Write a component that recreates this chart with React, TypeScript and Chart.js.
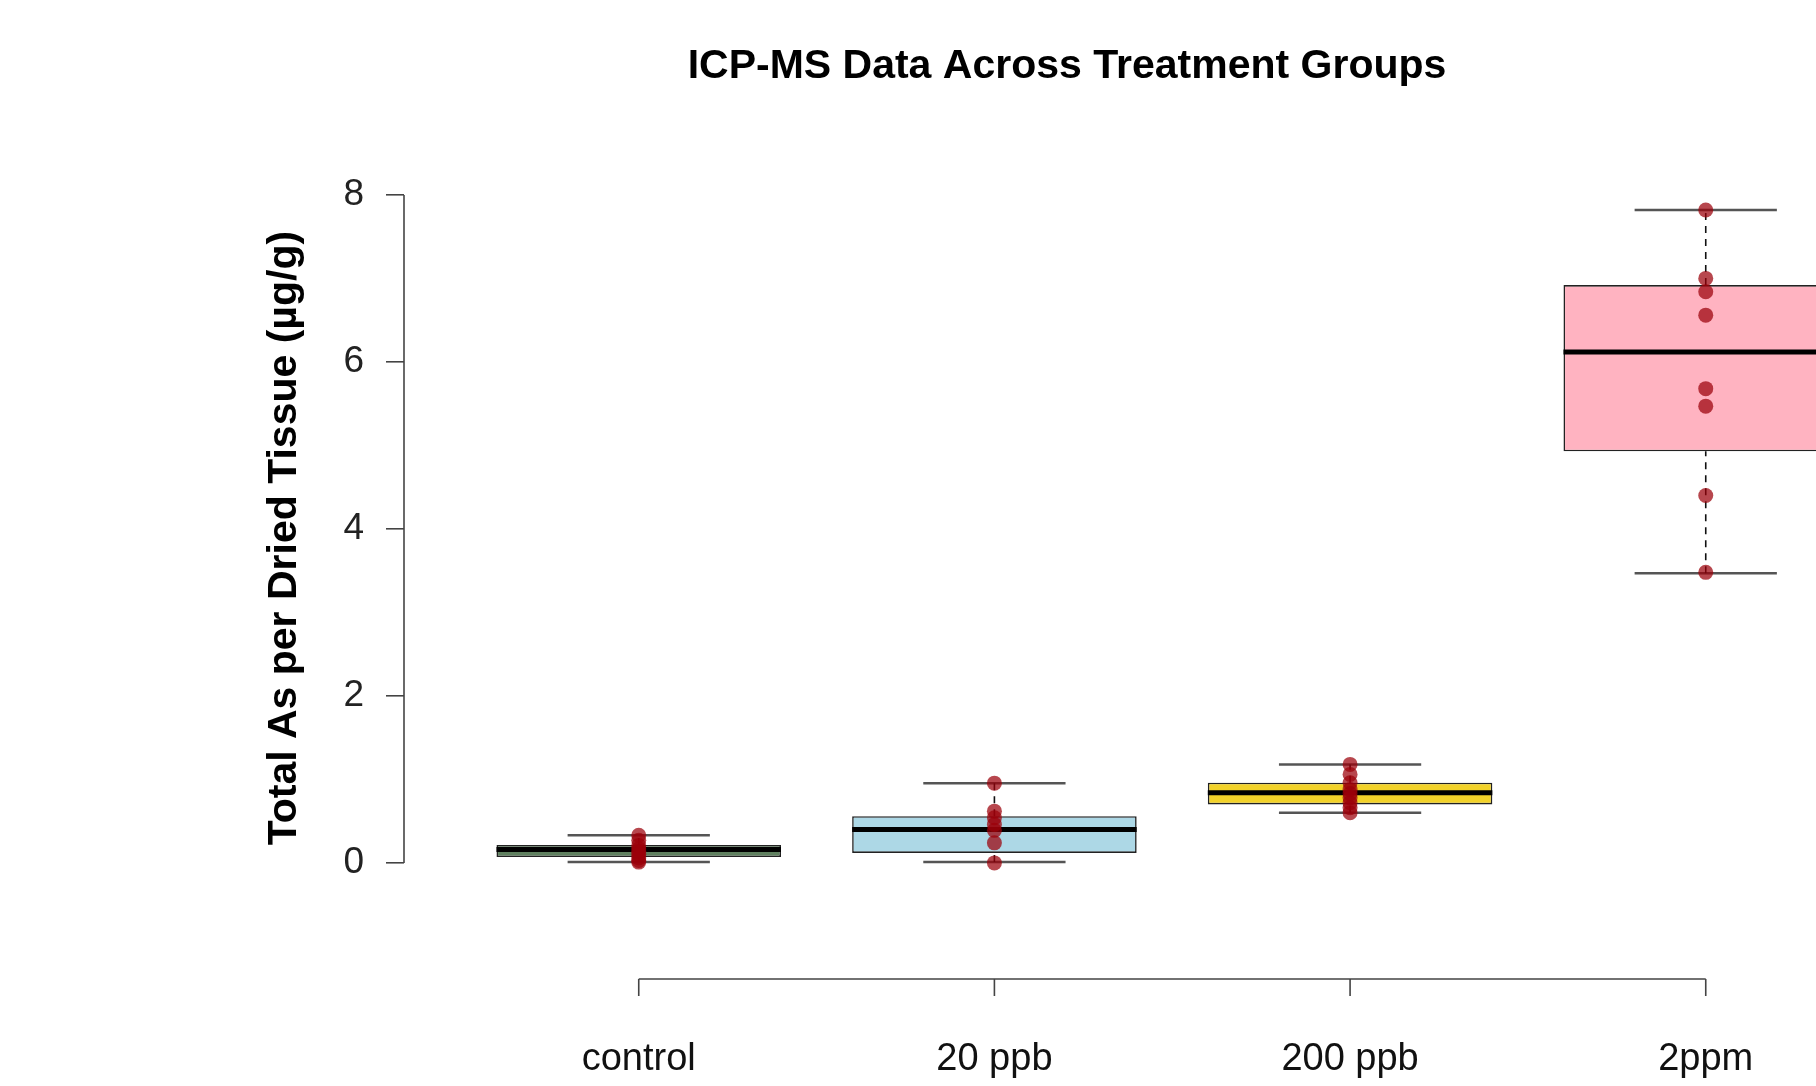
import React, { useEffect, useRef } from "react";
import { Chart, registerables } from "chart.js";

Chart.register(...registerables);

// ---- data ----
const categories = ["control", "20 ppb", "200 ppb", "2ppm"];
const whiskerLow = [0.01, 0.01, 0.6, 3.47];
const quartile1 = [0.07, 0.12, 0.7, 4.93];
const medians = [0.16, 0.4, 0.84, 6.12];
const quartile3 = [0.215, 0.56, 0.96, 6.92];
const whiskerHigh = [0.33, 0.955, 1.18, 7.82];
const controlPoints = [0.01, 0.03, 0.06, 0.1, 0.14, 0.17, 0.21, 0.27, 0.33];
const ppb20Points = [0.0, 0.24, 0.39, 0.46, 0.54, 0.62, 0.955];
const ppb200Points = [0.6, 0.66, 0.72, 0.78, 0.83, 0.88, 0.96, 1.06, 1.18];
const ppm2Points = [3.48, 4.4, 5.47, 5.68, 6.56, 6.84, 7.0, 7.82];
const groupPoints = [controlPoints, ppb20Points, ppb200Points, ppm2Points];
const yTickValues = [0, 2, 4, 6, 8];

// ---- styles ----
const boxColors = ["#5f805f", "#add8e6", "#f2d22a", "#ffb3c1"];
const FONT = "'Liberation Sans', Arial, Helvetica, sans-serif";
const BOX_HALF = 0.4;
const CAP_HALF = 0.2;
const X_AXIS_OFFSET = 71;
const X_TICK_LEN = 17;

const axisPlugin = {
  id: "rAxes",
  afterDraw(chart: any) {
    const { ctx, chartArea, scales } = chart;
    const x = scales.x;
    const y = scales.y;
    ctx.save();
    ctx.strokeStyle = "#444";
    ctx.lineWidth = 1.6;
    ctx.beginPath();
    ctx.moveTo(chartArea.left, y.getPixelForValue(yTickValues[0]));
    ctx.lineTo(chartArea.left, y.getPixelForValue(yTickValues[yTickValues.length - 1]));
    ctx.stroke();
    const ay = chartArea.bottom + X_AXIS_OFFSET;
    ctx.beginPath();
    ctx.moveTo(x.getPixelForValue(1), ay);
    ctx.lineTo(x.getPixelForValue(categories.length), ay);
    categories.forEach((_, i) => {
      const px = x.getPixelForValue(i + 1);
      ctx.moveTo(px, ay);
      ctx.lineTo(px, ay + X_TICK_LEN);
    });
    ctx.stroke();
    ctx.restore();
  },
};

export default function App() {
  const ref = useRef<HTMLCanvasElement | null>(null);

  useEffect(() => {
    if (!ref.current) return;
    Chart.defaults.font.family = FONT;

    const medianData: any[] = [];
    const whiskerData: any[] = [];
    const capData: any[] = [];
    categories.forEach((_, i) => {
      const c = i + 1;
      medianData.push({ x: c - BOX_HALF, y: medians[i] }, { x: c + BOX_HALF, y: medians[i] }, { x: c, y: null });
      whiskerData.push({ x: c, y: quartile3[i] }, { x: c, y: whiskerHigh[i] }, { x: c, y: null });
      whiskerData.push({ x: c, y: whiskerLow[i] }, { x: c, y: quartile1[i] }, { x: c, y: null });
      capData.push({ x: c - CAP_HALF, y: whiskerHigh[i] }, { x: c + CAP_HALF, y: whiskerHigh[i] }, { x: c, y: null });
      capData.push({ x: c - CAP_HALF, y: whiskerLow[i] }, { x: c + CAP_HALF, y: whiskerLow[i] }, { x: c, y: null });
    });
    const pointData: any[] = [];
    groupPoints.forEach((pts, i) => pts.forEach((v) => pointData.push({ x: i + 1, y: v })));

    const chart = new Chart(ref.current, {
      type: "bar",
      data: {
        datasets: [
          {
            type: "scatter",
            label: "samples",
            data: pointData,
            pointRadius: 7.5,
            pointBackgroundColor: "rgba(155,0,10,0.72)",
            pointBorderWidth: 0,
            order: 0,
          } as any,
          {
            type: "line",
            label: "median",
            data: medianData,
            borderColor: "#000",
            borderWidth: 5,
            pointRadius: 0,
            spanGaps: false,
            borderCapStyle: "butt",
            order: 1,
          } as any,
          {
            type: "bar",
            label: "box",
            data: categories.map((_, i) => ({ x: i + 1, y: [quartile1[i], quartile3[i]] })),
            backgroundColor: boxColors,
            borderColor: "#222",
            borderWidth: 1.6,
            borderSkipped: false,
            barPercentage: 0.8,
            categoryPercentage: 1,
            order: 2,
          } as any,
          {
            type: "line",
            label: "whiskers",
            data: whiskerData,
            borderColor: "#111",
            borderWidth: 1.6,
            borderDash: [7, 6],
            pointRadius: 0,
            spanGaps: false,
            order: 3,
          } as any,
          {
            type: "line",
            label: "caps",
            data: capData,
            borderColor: "#555",
            borderWidth: 2.5,
            pointRadius: 0,
            spanGaps: false,
            order: 3,
          } as any,
        ],
      },
      options: {
        responsive: false,
        animation: false,
        events: [],
        layout: { padding: 0 },
        plugins: {
          legend: { display: false },
          tooltip: { enabled: false },
          title: {
            display: true,
            text: "ICP-MS Data Across Treatment Groups",
            color: "#000",
            font: { size: 41, weight: "bold", family: FONT },
            padding: { top: 42, bottom: 77 },
          },
        },
        scales: {
          x: {
            type: "linear",
            offset: false,
            min: 0.34,
            max: 5.183,
            afterBuildTicks: (s: any) => {
              s.ticks = categories.map((_, i) => ({ value: i + 1 }));
            },
            afterFit: (s: any) => {
              s.height = 178;
            },
            grid: { display: false, offset: false },
            border: { display: false },
            ticks: {
              padding: 121,
              autoSkip: false,
              maxRotation: 0,
              color: "#111",
              font: { size: 38, family: FONT },
              callback: (v: any) => categories[Math.round(Number(v)) - 1] ?? "",
            },
          },
          y: {
            type: "linear",
            min: -0.54,
            max: 8.32,
            afterBuildTicks: (s: any) => {
              s.ticks = yTickValues.map((v) => ({ value: v }));
            },
            afterFit: (s: any) => {
              s.width = 404;
            },
            grid: { drawOnChartArea: false, drawTicks: true, tickLength: 18, color: "#444", lineWidth: 1.6 },
            border: { display: false },
            ticks: { padding: 22, color: "#222", font: { size: 37, family: FONT } },
            title: {
              display: true,
              text: "Total As per Dried Tissue (µg/g)",
              color: "#000",
              font: { size: 41, weight: "bold", family: FONT },
              padding: { top: 260, bottom: 0 },
            },
          },
        },
      } as any,
      plugins: [axisPlugin],
    });
    return () => chart.destroy();
  }, []);

  return (
    <div
      style={{
        position: "fixed",
        left: 0,
        top: 0,
        width: 1816,
        height: 1086,
        overflow: "hidden",
        background: "#fff",
      }}
    >
      <canvas ref={ref} width={2134} height={1086} style={{ width: 2134, height: 1086, display: "block" }} />
    </div>
  );
}
